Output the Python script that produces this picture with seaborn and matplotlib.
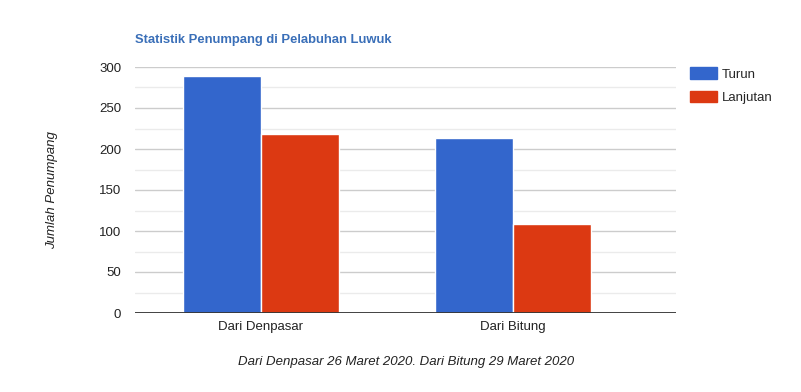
import matplotlib
matplotlib.use("Agg")
import matplotlib.pyplot as plt
import seaborn as sns
import pandas as pd
from matplotlib.patches import Patch

# data
categories = ["Dari Denpasar", "Dari Bitung"]
turun = [289, 213]
lanjutan = [218, 109]
series_names = ["Turun", "Lanjutan"]
colors = ["#3366cc", "#dc3912"]

df = pd.DataFrame({
    "kategori": categories * 2,
    "seri": [series_names[0]] * 2 + [series_names[1]] * 2,
    "jumlah": turun + lanjutan,
})

sns.set_style("white")
plt.rcParams["font.family"] = ["Liberation Sans", "DejaVu Sans"]

fig = plt.figure(figsize=(8.01, 3.92), dpi=100)
ax = fig.add_axes([135 / 801, 79 / 392, 541 / 801, 246 / 392])

# minor gridlines every 25, major every 50
for y in range(25, 300, 50):
    ax.axhline(y, color="#ebebeb", lw=1, zorder=0)
for y in range(50, 301, 50):
    ax.axhline(y, color="#cccccc", lw=1, zorder=0)

sns.barplot(data=df, x="kategori", y="jumlah", hue="seri", palette=colors,
            width=0.62, gap=0.01, saturation=1, ax=ax, legend=False, zorder=2)

ax.set_xlim(-0.5, 1.647)
ax.set_ylim(0, 300)
ax.set_yticks(range(0, 301, 50))
ax.axhline(0, color="#333333", lw=1.3, zorder=3)
for s in ax.spines.values():
    s.set_visible(False)
ax.tick_params(axis="both", length=0, labelsize=9.5, colors="#222222")
ax.tick_params(axis="y", pad=10)
ax.tick_params(axis="x", pad=6)
ax.set_xlabel("")
ax.set_ylabel("")

fig.text(135 / 801, 1 - 40 / 392, "Statistik Penumpang di Pelabuhan Luwuk",
         fontsize=9.4, fontweight="bold", color="#3a6fb8", va="center", ha="left")
fig.text(52 / 801, 1 - 190 / 392, "Jumlah Penumpang", rotation=90, style="italic",
         fontsize=9.5, color="#222222", va="center", ha="center")
fig.text(406 / 801, 1 - 362 / 392, "Dari Denpasar 26 Maret 2020. Dari Bitung 29 Maret 2020",
         style="italic", fontsize=9.5, color="#222222", va="center", ha="center")

handles = [Patch(facecolor=c, edgecolor=c) for c in colors]
fig.legend(handles, series_names, loc="upper left", bbox_to_anchor=(685 / 801, 1 - 62 / 392),
           frameon=False, fontsize=9.5, handlelength=2.0, handleheight=1.0,
           handletextpad=0.4, labelspacing=0.75, borderaxespad=0)

fig.savefig("out.png", dpi=100, facecolor="white")
